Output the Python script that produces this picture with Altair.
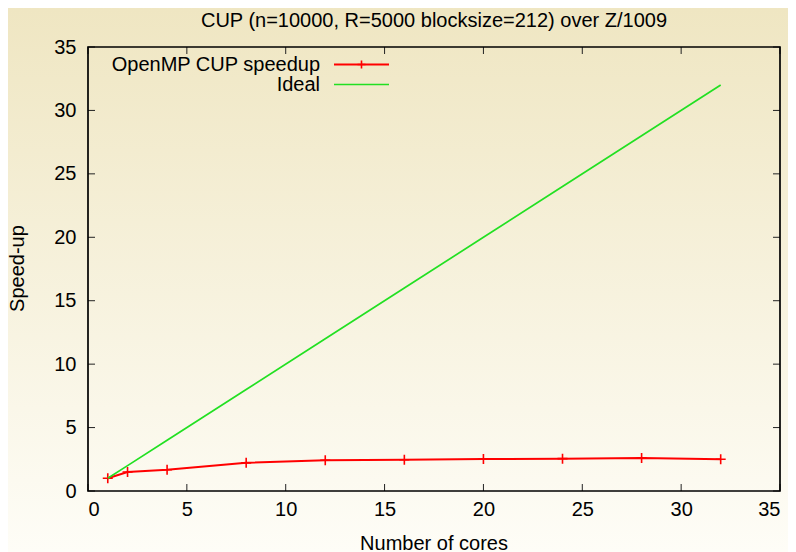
import altair as alt
import pandas as pd

# ---- data ----
cores = [1, 2, 4, 8, 12, 16, 20, 24, 28, 32]
speedup = [1.0, 1.5, 1.68, 2.22, 2.42, 2.46, 2.52, 2.55, 2.6, 2.5]
ideal = [1, 2, 4, 8, 12, 16, 20, 24, 28, 32]
x_ticks = [0, 5, 10, 15, 20, 25, 30, 35]
y_ticks = [0, 5, 10, 15, 20, 25, 30, 35]
legend_labels = ["OpenMP CUP speedup", "Ideal"]
title_text = "CUP (n=10000, R=5000 blocksize=212) over Z/1009"

RED = "#ff0000"
GREEN = "#22e022"
FONT = "Liberation Sans"
W, H = 692, 444
PAD = {"left": 80, "top": 39, "right": 8, "bottom": 61}
CROSS = "M-1,0L1,0M0,-1L0,1"

df = pd.DataFrame({"cores": cores, "speedup": speedup, "ideal": ideal})
xt = pd.DataFrame({"v": x_ticks})
yt = pd.DataFrame({"v": y_ticks})
one = pd.DataFrame({"a": [0]})

xs = alt.Scale(domain=[0, 35], nice=False, zero=False)
ys = alt.Scale(domain=[0, 35], nice=False, zero=False)

grad = alt.LinearGradient(
    gradient="linear",
    stops=[alt.GradientStop(color="#efe6c2", offset=0),
           alt.GradientStop(color="#fefdf7", offset=1)],
    x1=0, x2=0, y1=0, y2=1,
)
bg = alt.Chart(one).mark_rect(fill=grad, strokeWidth=0).encode(
    x=alt.value(-PAD["left"]), x2=alt.value(W + PAD["right"]),
    y=alt.value(-PAD["top"]), y2=alt.value(H + PAD["bottom"]),
)
frame = alt.Chart(one).mark_rect(fill=None, fillOpacity=0, stroke="black",
                                 strokeWidth=1.7).encode(
    x=alt.value(0), x2=alt.value(W), y=alt.value(0), y2=alt.value(H))

xaxis = alt.Axis(values=x_ticks, ticks=False, domain=False, grid=False,
                 labelFontSize=20, labelPadding=8, labelColor="black",
                 title="Number of cores", titleFontSize=20, titleFontWeight="normal",
                 titleColor="black", titleX=345.5, titleY=58,
                 titleBaseline="alphabetic", titleAlign="center", zindex=2)
yaxis = alt.Axis(values=y_ticks, ticks=False, domain=False, grid=False,
                 labelFontSize=20, labelPadding=12, labelColor="black",
                 title="Speed-up", titleFontSize=20, titleFontWeight="normal",
                 titleColor="black", titleX=-65, titleY=221,
                 titleBaseline="alphabetic", titleAlign="center", titleAngle=270,
                 zindex=2)

red_line = alt.Chart(df).mark_line(color=RED, strokeWidth=2).encode(
    x=alt.X("cores:Q", scale=xs, axis=xaxis),
    y=alt.Y("speedup:Q", scale=ys, axis=yaxis),
)
red_pts = alt.Chart(df).mark_point(shape=CROSS, size=100, filled=False,
                                   color=RED, strokeWidth=1.6, opacity=1).encode(
    x=alt.X("cores:Q", scale=xs),
    y=alt.Y("speedup:Q", scale=ys),
)
green_line = alt.Chart(df).mark_line(color=GREEN, strokeWidth=1.7).encode(
    x=alt.X("cores:Q", scale=xs),
    y=alt.Y("ideal:Q", scale=ys),
)

TL = 7
tick_color = "#222222"
tb = alt.Chart(xt).mark_rule(color=tick_color, strokeWidth=1).encode(
    x=alt.X("v:Q", scale=xs), y=alt.value(H), y2=alt.value(H - TL))
tt = alt.Chart(xt).mark_rule(color=tick_color, strokeWidth=1).encode(
    x=alt.X("v:Q", scale=xs), y=alt.value(0), y2=alt.value(TL))
tl = alt.Chart(yt).mark_rule(color=tick_color, strokeWidth=1).encode(
    y=alt.Y("v:Q", scale=ys), x=alt.value(0), x2=alt.value(TL))
tr = alt.Chart(yt).mark_rule(color=tick_color, strokeWidth=1).encode(
    y=alt.Y("v:Q", scale=ys), x=alt.value(W), x2=alt.value(W - TL))

# ---- key (gnuplot style: text left, sample right) ----
ROW1, ROW2 = 17.5, 37.5
TX, LX1, LX2 = 232, 246, 301
k1t = alt.Chart(one).mark_text(text=legend_labels[0], align="right", baseline="middle",
                               fontSize=20, color="black").encode(
    x=alt.value(TX), y=alt.value(ROW1))
k2t = alt.Chart(one).mark_text(text=legend_labels[1], align="right", baseline="middle",
                               fontSize=20, color="black").encode(
    x=alt.value(TX), y=alt.value(ROW2))
k1l = alt.Chart(one).mark_rule(color=RED, strokeWidth=2).encode(
    x=alt.value(LX1), x2=alt.value(LX2), y=alt.value(ROW1))
k1p = alt.Chart(one).mark_point(shape=CROSS, size=64, filled=False, color=RED,
                                strokeWidth=1.6, opacity=1).encode(
    x=alt.value((LX1 + LX2) / 2), y=alt.value(ROW1))
k2l = alt.Chart(one).mark_rule(color=GREEN, strokeWidth=1.7).encode(
    x=alt.value(LX1), x2=alt.value(LX2), y=alt.value(ROW2))

chart = alt.layer(
    bg, red_line, red_pts, green_line, tb, tt, tl, tr, frame,
    k1t, k2t, k1l, k1p, k2l
).properties(
    width=W, height=H,
    autosize=alt.AutoSizeParams(type="none"),
    padding=PAD,
    title=alt.Title(title_text, fontSize=20, fontWeight="normal", color="black",
                    anchor="middle", baseline="alphabetic", offset=-39,
                    zindex=2),
).configure(
    font=FONT,
    background="#f7f2df",
).configure_view(
    strokeWidth=0,
)

chart.save("out.html", embed_options={"renderer": "svg", "actions": False})
